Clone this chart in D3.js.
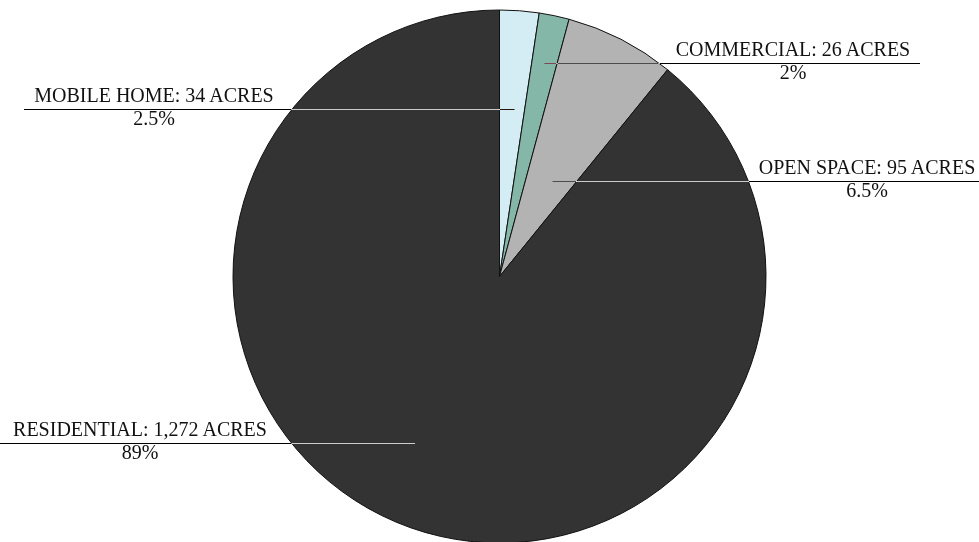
<!DOCTYPE html>
<html>
<head>
<meta charset="utf-8">
<script src="https://cdn.jsdelivr.net/npm/d3@7/dist/d3.min.js"></script>
<style>
  html, body { margin: 0; padding: 0; background: #ffffff; }
  svg { display: block; }
</style>
</head>
<body>
<div id="chart"></div>
<script>
// ---- data ----
const categories = ["MOBILE HOME", "COMMERCIAL", "OPEN SPACE", "RESIDENTIAL"];
const acres = [34, 26, 95, 1272];
const acreLabels = ["34", "26", "95", "1,272"];
const percentLabels = ["2.5%", "2%", "6.5%", "89%"];
const colors = ["#d4ecf3", "#85b7a8", "#b3b3b3", "#333333"];

// ---- layout ----
const W = 979, H = 542;
const cx = 499.5, cy = 276.5, R = 266.5;
// label anchor: fraction along slice angle, fraction of radius, outer line end, text centre, side
const labelLayout = [
  { t: 0.60, k: 0.63, end: 24,  tx: 154, side: "left" },
  { t: 0.50, k: 0.82, end: 920, tx: 793, side: "right" },
  { t: 0.58, k: 0.41, end: 979, tx: 867, side: "right" },
  { t: 0.523, k: 0.70, end: 0,  tx: 140, side: "left" }
];

const data = categories.map((c, i) => ({ name: c, value: acres[i], acre: acreLabels[i], pct: percentLabels[i], color: colors[i], lay: labelLayout[i] }));

const svg = d3.select("#chart").append("svg").attr("width", W).attr("height", H);
svg.append("rect").attr("width", W).attr("height", H).attr("fill", "#ffffff");

const pie = d3.pie().value(d => d.value).sort(null);
const arcs = pie(data);
const arc = d3.arc().innerRadius(0).outerRadius(R);

const g = svg.append("g").attr("transform", `translate(${cx},${cy})`);
g.selectAll("path.slice").data(arcs).enter().append("path")
  .attr("class", "slice")
  .attr("d", arc)
  .attr("fill", d => d.data.color)
  .attr("stroke", "#111")
  .attr("stroke-width", 1);

// labels
arcs.forEach(d => {
  const L = d.data.lay;
  const a = d.startAngle + L.t * (d.endAngle - d.startAngle);
  const r = L.k * R;
  const ax = cx + r * Math.sin(a);
  const ay = cy - r * Math.cos(a);
  const x0 = L.side === "left" ? L.end : ax;
  const x1 = L.side === "left" ? ax : L.end;
  svg.append("line")
    .attr("x1", x0).attr("x2", x1)
    .attr("y1", Math.round(ay) + 0.5).attr("y2", Math.round(ay) + 0.5)
    .attr("stroke", "#ffffff")
    .attr("stroke-width", 1.2)
    .style("mix-blend-mode", "difference");
  svg.append("text")
    .attr("x", L.tx).attr("y", Math.round(ay) - 7)
    .attr("text-anchor", "middle")
    .attr("font-family", "'Liberation Serif', 'Times New Roman', serif")
    .attr("font-size", 20)
    .attr("fill", "#111")
    .text(`${d.data.name}: ${d.data.acre} ACRES`);
  svg.append("text")
    .attr("x", L.tx).attr("y", Math.round(ay) + 16)
    .attr("text-anchor", "middle")
    .attr("font-family", "'Liberation Serif', 'Times New Roman', serif")
    .attr("font-size", 20)
    .attr("fill", "#111")
    .text(d.data.pct);
});
</script>
</body>
</html>
